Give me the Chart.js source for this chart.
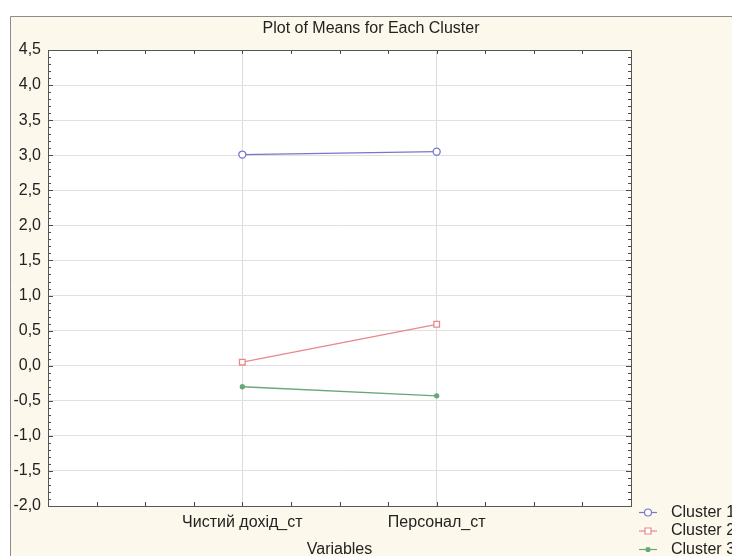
<!DOCTYPE html>
<html>
<head>
<meta charset="utf-8">
<script src="https://cdn.jsdelivr.net/npm/chart.js@4"></script>
<style>
  html, body { margin: 0; padding: 0; background: #fff; }
  canvas { display: block; }
</style>
</head>
<body>
<canvas id="chart" width="732" height="556"></canvas>
<script>
// Data
const variables = ['Чистий дохід_ст', 'Персонал_ст'];
const clusterNames = ['Cluster 1', 'Cluster 2', 'Cluster 3'];
const cluster1 = [3.01, 3.05];
const cluster2 = [0.05, 0.59];
const cluster3 = [-0.30, -0.43];
const yMin = -2.0, yMax = 4.5, yStep = 0.5;

const FONT = 'Arial, "Liberation Sans", sans-serif';
const TEXT = '#222';
const FS = 16;

function toPoints(values) {
  return values.map((v, i) => ({ x: i + 1, y: v }));
}

// cream frame, white plot area, border with inner ticks, custom legend
const framePlugin = {
  id: 'frame',
  beforeDraw(chart) {
    const { ctx, chartArea: a, width, height } = chart;
    ctx.save();
    ctx.fillStyle = '#fff';
    ctx.fillRect(0, 0, width, height);
    ctx.fillStyle = '#fdf8ec';
    ctx.fillRect(10, 16, width - 10, height - 16);
    ctx.strokeStyle = '#8c8c8c';
    ctx.lineWidth = 1;
    ctx.beginPath();
    ctx.moveTo(10.5, height);
    ctx.lineTo(10.5, 16.5);
    ctx.lineTo(width, 16.5);
    ctx.stroke();
    ctx.fillStyle = '#fff';
    ctx.fillRect(a.left, a.top, a.right - a.left, a.bottom - a.top);
    ctx.restore();
  },
  beforeDatasetsDraw(chart) {
    const { ctx, chartArea: a, scales } = chart;
    ctx.save();
    ctx.strokeStyle = '#4a4a4a';
    ctx.lineWidth = 1;
    ctx.beginPath();
    // x ticks top and bottom
    for (let v = 0.25; v < 3; v += 0.25) {
      const x = Math.round(scales.x.getPixelForValue(v)) + 0.5;
      ctx.moveTo(x, a.top); ctx.lineTo(x, a.top + 4);
      ctx.moveTo(x, a.bottom); ctx.lineTo(x, a.bottom - 4);
    }
    // y minor ticks left and right
    for (let k = 1; k < 65; k++) {
      const v = yMin + k * 0.1;
      const y = Math.round(scales.y.getPixelForValue(v)) + 0.5;
      const len = (k % 5 === 0) ? 5 : 3;
      ctx.moveTo(a.left, y); ctx.lineTo(a.left + len, y);
      ctx.moveTo(a.right, y); ctx.lineTo(a.right - len, y);
    }
    ctx.stroke();
    ctx.strokeStyle = '#555';
    ctx.strokeRect(Math.round(a.left) + 0.5, Math.round(a.top) + 0.5,
      Math.round(a.right - a.left), Math.round(a.bottom - a.top));
    ctx.restore();
  },
  afterDraw(chart) {
    const { ctx, chartArea: a } = chart;
    ctx.save();
    ctx.font = FS + 'px ' + FONT;
    ctx.textBaseline = 'middle';
    chart.data.datasets.forEach((ds, i) => {
      const y = a.bottom + 6.5 + i * 18.5;
      const x0 = a.right + 8;
      ctx.strokeStyle = ds.borderColor;
      ctx.lineWidth = 1.2;
      ctx.beginPath();
      ctx.moveTo(x0, y); ctx.lineTo(x0 + 18, y);
      ctx.stroke();
      ctx.fillStyle = ds.pointBackgroundColor;
      ctx.beginPath();
      if (ds.pointStyle === 'rect') {
        ctx.rect(x0 + 6, y - 3, 6, 6);
      } else {
        ctx.arc(x0 + 9, y, ds.pointRadius, 0, Math.PI * 2);
      }
      ctx.fill();
      ctx.stroke();
      ctx.fillStyle = TEXT;
      ctx.fillText(ds.label, x0 + 32, y);
    });
    ctx.restore();
  }
};

new Chart(document.getElementById('chart'), {
  type: 'line',
  data: {
    datasets: [
      {
        label: clusterNames[0],
        data: toPoints(cluster1),
        borderColor: '#7676cc',
        borderWidth: 1.3,
        pointStyle: 'circle',
        pointRadius: 3.5,
        pointBackgroundColor: '#fff',
        pointBorderColor: '#7676cc'
      },
      {
        label: clusterNames[1],
        data: toPoints(cluster2),
        borderColor: '#e8888c',
        borderWidth: 1.3,
        pointStyle: 'rect',
        pointRadius: 4,
        pointBackgroundColor: '#fff',
        pointBorderColor: '#e8888c'
      },
      {
        label: clusterNames[2],
        data: toPoints(cluster3),
        borderColor: '#68a878',
        borderWidth: 1.3,
        pointStyle: 'circle',
        pointRadius: 2,
        pointBackgroundColor: '#68a878',
        pointBorderColor: '#68a878'
      }
    ]
  },
  options: {
    responsive: false,
    animation: false,
    devicePixelRatio: 1,
    layout: { padding: { left: 10, right: 0, top: 16, bottom: 0 } },
    plugins: {
      legend: { display: false },
      tooltip: { enabled: false },
      title: {
        display: true,
        text: 'Plot of Means for Each Cluster',
        color: TEXT,
        font: { family: FONT, size: FS, weight: 'normal' },
        padding: { top: 3.4, bottom: 11.4 }
      }
    },
    scales: {
      x: {
        type: 'linear',
        min: 0,
        max: variables.length + 1,
        border: { display: false },
        grid: {
          drawTicks: false,
          color: c => (c.tick && Number.isInteger(c.tick.value) && c.tick.value >= 1 && c.tick.value <= variables.length) ? '#dcdcdc' : 'rgba(0,0,0,0)'
        },
        ticks: {
          stepSize: 0.25,
          autoSkip: false,
          maxRotation: 0,
          padding: 7.4,
          color: TEXT,
          font: { family: FONT, size: FS },
          callback: v => (Number.isInteger(v) && v >= 1 && v <= variables.length) ? variables[v - 1] : ''
        },
        title: {
          display: true,
          text: 'Variables',
          color: TEXT,
          font: { family: FONT, size: FS },
          padding: { top: 0, bottom: -3.6 }
        },
        afterFit: s => { s.height = 50; }
      },
      y: {
        min: yMin,
        max: yMax,
        border: { display: false },
        grid: { drawTicks: false, color: '#e0e0e0' },
        ticks: {
          stepSize: yStep,
          padding: 7,
          color: TEXT,
          font: { family: FONT, size: FS },
          callback: v => v.toFixed(1).replace('.', ',')
        },
        afterFit: s => { s.width = 38; }
      },
      yRight: {
        position: 'right',
        display: true,
        grid: { display: false },
        border: { display: false },
        ticks: { display: false },
        afterFit: s => { s.width = 101; }
      }
    }
  },
  plugins: [framePlugin]
});
</script>
</body>
</html>
